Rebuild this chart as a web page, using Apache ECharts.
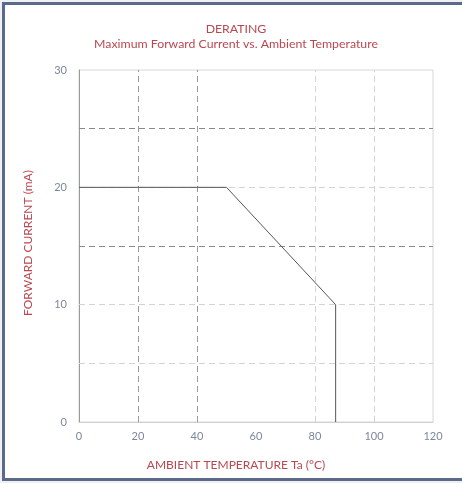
<!DOCTYPE html>
<html><head><meta charset="utf-8">
<script src="https://cdn.jsdelivr.net/npm/echarts@6/dist/echarts.min.js"></script>
<style>
html,body{margin:0;padding:0;background:#eef0f4;}
#frame{position:absolute;left:2px;top:2px;width:463px;height:473px;border-left:3px solid #5b6a88;border-top:3px solid #5b6a88;border-bottom:3px solid #5b6a88;background:#fff;}
#main{position:absolute;left:0;top:0;width:462px;height:483px;}
</style></head>
<body>
<div id="frame"></div>
<div id="main"></div>
<script>
const temperature = [0, 50, 87, 87];
const current = [20, 20, 10, 0];
const xTicks = [0, 20, 40, 60, 80, 100, 120];
const yTicks = [0, 10, 20, 30];
const xGridDark = [20, 40];
const xGridLight = [80, 100];
const yGridDark = [25, 15];
const yGridLight = [20, 10, 5];

const red = '#b9474f';
const labelColor = '#7d879c';
const chart = echarts.init(document.getElementById('main'), null, {renderer:'canvas'});
const ml = [];
xGridDark.forEach(v => ml.push({xAxis: v, lineStyle:{color:'#9a9a9a', type:[6,4], width:1}}));
xGridLight.forEach(v => ml.push({xAxis: v, lineStyle:{color:'#d4d4d4', type:[6,4], width:1}}));
yGridDark.forEach(v => ml.push({yAxis: v, lineStyle:{color:'#8a8a8a', type:[6,4], width:1}}));
yGridLight.forEach(v => ml.push({yAxis: v, lineStyle:{color:'#d4d4d4', type:[6,4], width:1}}));

chart.setOption({
  backgroundColor: 'transparent',
  animation: false,
  title: {
    text: 'DERATING',
    subtext: 'Maximum Forward Current vs. Ambient Temperature',
    left: 231, top: 18, textAlign: 'center',
    itemGap: 3,
    textStyle: {color: red, fontSize: 12.3, fontWeight: 'normal', fontFamily: 'Lato'},
    subtextStyle: {color: red, fontSize: 12.3, fontFamily: 'Lato'}
  },
  grid: {left: 79, top: 70, width: 354, height: 352, show: true, borderColor: '#d8d8d8', borderWidth: 1},
  xAxis: {
    type: 'value', min: 0, max: 120, interval: 20,
    name: 'AMBIENT TEMPERATURE Ta (°C)', nameLocation: 'middle', nameGap: 37,
    nameTextStyle: {color: red, fontSize: 12, fontFamily: 'Lato', padding: [0, 40, 0, 0]},
    axisLine: {show: true, lineStyle: {color: '#d0d0d0'}},
    axisTick: {show: false},
    splitLine: {show: false},
    axisLabel: {color: labelColor, fontSize: 11, fontFamily: 'Lato', margin: 9,
      formatter: v => xTicks.includes(v) ? String(v) : ''}
  },
  yAxis: {
    type: 'value', min: 0, max: 30, interval: 10,
    name: 'FORWARD CURRENT (mA)', nameLocation: 'middle', nameGap: 45,
    nameTextStyle: {color: red, fontSize: 12, fontFamily: 'Lato', padding: [0, 0, 0, 6]},
    axisLine: {show: true, lineStyle: {color: '#9a9a9a'}},
    axisTick: {show: false},
    splitLine: {show: false},
    axisLabel: {color: labelColor, fontSize: 11, fontFamily: 'Lato', margin: 12,
      formatter: v => yTicks.includes(v) ? String(v) : ''}
  },
  series: [{
    type: 'line',
    data: temperature.map((t, i) => [t, current[i]]),
    showSymbol: false,
    lineStyle: {color: '#555555', width: 1},
    z: 3,
    markLine: {symbol: 'none', silent: true, label: {show: false}, data: ml, z: 1}
  }]
});
</script>
</body></html>
